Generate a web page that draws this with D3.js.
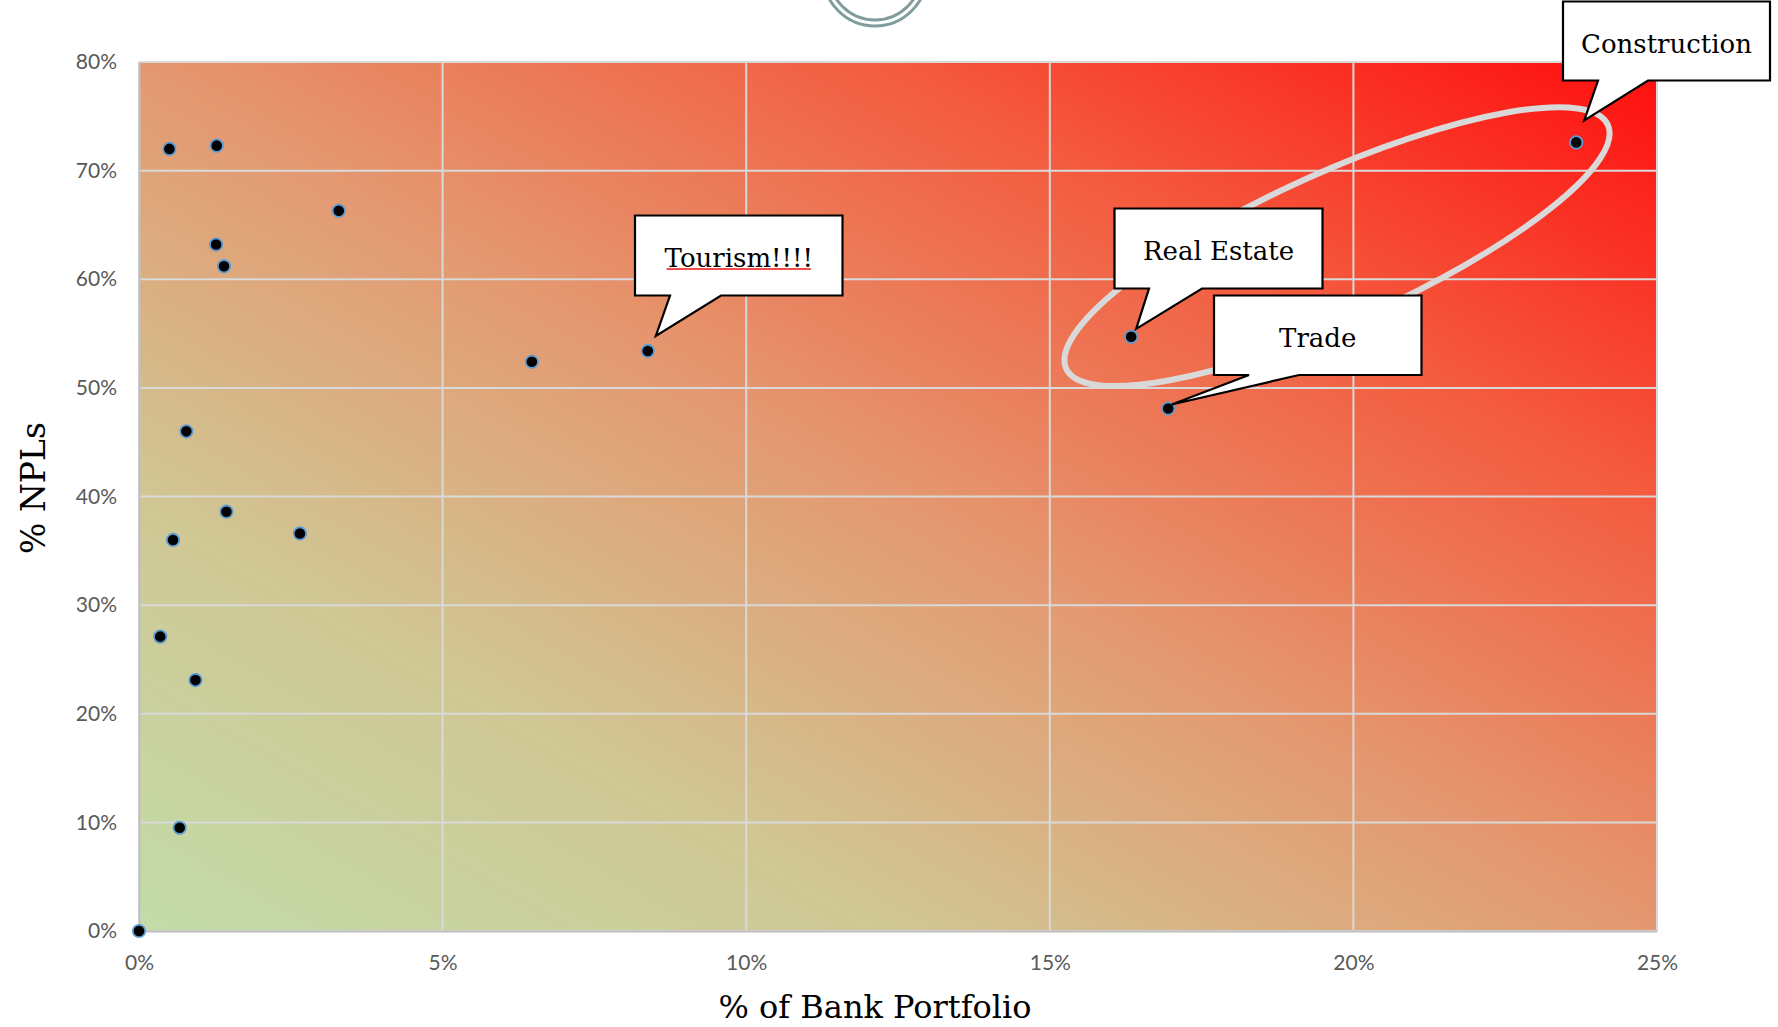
<!DOCTYPE html>
<html>
<head>
<meta charset="utf-8">
<script src="https://cdn.jsdelivr.net/npm/d3@7"></script>
<style>
  html, body { margin: 0; padding: 0; background: #ffffff; }
  svg { display: block; }
</style>
</head>
<body>
<svg id="chart" width="1778" height="1027"></svg>
<script>
// Share of the bank's loan book held by each sector (%)
const portfolioShare = [0.50, 1.28, 3.29, 1.27, 1.40, 6.47, 8.38, 0.78, 1.44, 2.65, 0.56, 0.35, 0.93, 0.67, 0.00, 16.34, 16.95, 23.67];
// Non-performing loan ratio for the same sectors (%)
const nplRatio = [72.0, 72.3, 66.3, 63.2, 61.2, 52.4, 53.4, 46.0, 38.6, 36.6, 36.0, 27.1, 23.1, 9.5, 0.0, 54.7, 48.1, 72.6];

const xTickValues = [0, 5, 10, 15, 20, 25];
const yTickValues = [0, 10, 20, 30, 40, 50, 60, 70, 80];

// Named sectors called out on the chart, with the index of their point
const calloutLabels = ["Tourism!!!!", "Real Estate", "Trade", "Construction"];
const calloutPointIndex = [6, 15, 16, 17];

const xTitle = "% of Bank Portfolio";
const yTitle = "% NPLs";

// ---------- layout ----------
const plot = { left: 139, right: 1657, top: 62, bottom: 931 };

const svg = d3.select("#chart");

const x = d3.scaleLinear().domain([0, 25]).range([plot.left, plot.right]);
const y = d3.scaleLinear().domain([0, 80]).range([plot.bottom, plot.top]);

// Background gradient: green (low risk) at lower-left to red at upper-right
const defs = svg.append("defs");
const grad = defs.append("linearGradient")
  .attr("id", "riskGradient")
  .attr("x1", 0).attr("y1", 1).attr("x2", 1).attr("y2", 0);
[
  [0.00, "#c2dca9"],
  [0.25, "#d0c794"],
  [0.50, "#e49870"],
  [0.75, "#f45a3e"],
  [1.00, "#ff0d0d"]
].forEach(([o, c]) => grad.append("stop").attr("offset", o).attr("stop-color", c));

// Decorative double ring at the top of the page
const ring = svg.append("g").attr("fill", "none").attr("stroke", "#809c9c").attr("stroke-width", 3);
ring.append("circle").attr("cx", 875).attr("cy", -26).attr("r", 52);
ring.append("circle").attr("cx", 875).attr("cy", -26).attr("r", 46);

// Plot area
svg.append("rect")
  .attr("x", plot.left).attr("y", plot.top)
  .attr("width", plot.right - plot.left).attr("height", plot.bottom - plot.top)
  .attr("fill", "url(#riskGradient)");

// Gridlines
const grid = svg.append("g").attr("stroke", "#d9d9d9").attr("stroke-width", 2);
grid.selectAll("line.v").data(xTickValues).join("line")
  .attr("class", "v")
  .attr("x1", d => x(d)).attr("x2", d => x(d))
  .attr("y1", plot.top).attr("y2", plot.bottom);
grid.selectAll("line.h").data(yTickValues).join("line")
  .attr("class", "h")
  .attr("x1", plot.left).attr("x2", plot.right)
  .attr("y1", d => y(d)).attr("y2", d => y(d));

// Axes
const fmt = d => d + "%";
const xAxis = svg.append("g")
  .attr("transform", `translate(0,${plot.bottom})`)
  .call(d3.axisBottom(x).tickValues(xTickValues).tickFormat(fmt).tickSize(0).tickPadding(24));
const yAxis = svg.append("g")
  .attr("transform", `translate(${plot.left},0)`)
  .call(d3.axisLeft(y).tickValues(yTickValues).tickFormat(fmt).tickSize(0).tickPadding(22));
[xAxis, yAxis].forEach(a => {
  a.select(".domain").attr("stroke", "#bfbfbf").attr("stroke-width", 2);
  a.selectAll("text")
    .attr("fill", "#595959")
    .style("font-family", "Lato, 'Open Sans', sans-serif")
    .style("font-size", "21px");
});

// Axis titles
svg.append("text")
  .attr("x", 875).attr("y", 1018)
  .attr("text-anchor", "middle")
  .style("font-family", "'DejaVu Serif', serif")
  .style("font-size", "32px")
  .attr("fill", "#000")
  .text(xTitle);
svg.append("text")
  .attr("transform", "translate(45,488) rotate(-90)")
  .attr("text-anchor", "middle")
  .style("font-family", "'DejaVu Serif', serif")
  .style("font-size", "33px")
  .attr("fill", "#000")
  .text(yTitle);

// Points
const points = portfolioShare.map((v, i) => ({ share: v, npl: nplRatio[i] }));
svg.append("g").selectAll("circle").data(points).join("circle")
  .attr("cx", d => x(d.share))
  .attr("cy", d => y(d.npl))
  .attr("r", 6.2)
  .attr("fill", "#000")
  .attr("stroke", "#5b9bd5")
  .attr("stroke-width", 1.8);

// Highlight ring around the large, high-NPL sectors
svg.append("ellipse")
  .attr("transform", `translate(${x(19.73)},${y(63.0)}) rotate(-24.2)`)
  .attr("rx", 297).attr("ry", 74.5)
  .attr("fill", "none")
  .attr("stroke", "#d9d9d9")
  .attr("stroke-width", 6);

// Callout boxes: rectangle, pointer base on the bottom edge, tip offset from the point
const calloutBoxes = [
  { x0: 635,    y0: 215.5, x1: 842.5,  y1: 295.5, b0: 670,  b1: 721,  tip: [8, -15],  underline: true },
  { x0: 1114.5, y0: 208.5, x1: 1322.5, y1: 288.5, b0: 1149, b1: 1202, tip: [5, -8] },
  { x0: 1214,   y0: 295.5, x1: 1421.5, y1: 375,   b0: 1249, b1: 1299, tip: [3.5, -4] },
  { x0: 1563,   y0: 1.5,   x1: 1770,   y1: 80.5,  b0: 1598, b1: 1648, tip: [8, -22] }
];

const callouts = svg.append("g");
calloutLabels.forEach((label, k) => {
  const b = calloutBoxes[k];
  const p = points[calloutPointIndex[k]];
  const tx = x(p.share) + b.tip[0], ty = y(p.npl) + b.tip[1];
  const path = d3.path();
  path.moveTo(b.x0, b.y0);
  path.lineTo(b.x1, b.y0);
  path.lineTo(b.x1, b.y1);
  path.lineTo(b.b1, b.y1);
  path.lineTo(tx, ty);
  path.lineTo(b.b0, b.y1);
  path.lineTo(b.x0, b.y1);
  path.closePath();
  const g = callouts.append("g");
  g.append("path")
    .attr("d", path.toString())
    .attr("fill", "#ffffff")
    .attr("stroke", "#000")
    .attr("stroke-width", 2.2)
    .attr("stroke-linejoin", "miter");
  const cx = (b.x0 + b.x1) / 2;
  const t = g.append("text")
    .attr("x", cx).attr("y", b.y0 + 51)
    .attr("text-anchor", "middle")
    .style("font-family", "'DejaVu Serif', serif")
    .style("font-size", "26px")
    .attr("fill", "#000")
    .text(label);
  if (b.underline) {
    const bb = t.node().getBBox();
    g.append("line")
      .attr("x1", bb.x + 2).attr("x2", bb.x + bb.width - 2)
      .attr("y1", b.y0 + 53.5).attr("y2", b.y0 + 53.5)
      .attr("stroke", "#ee1111")
      .attr("stroke-width", 1.6);
  }
});
</script>
</body>
</html>
